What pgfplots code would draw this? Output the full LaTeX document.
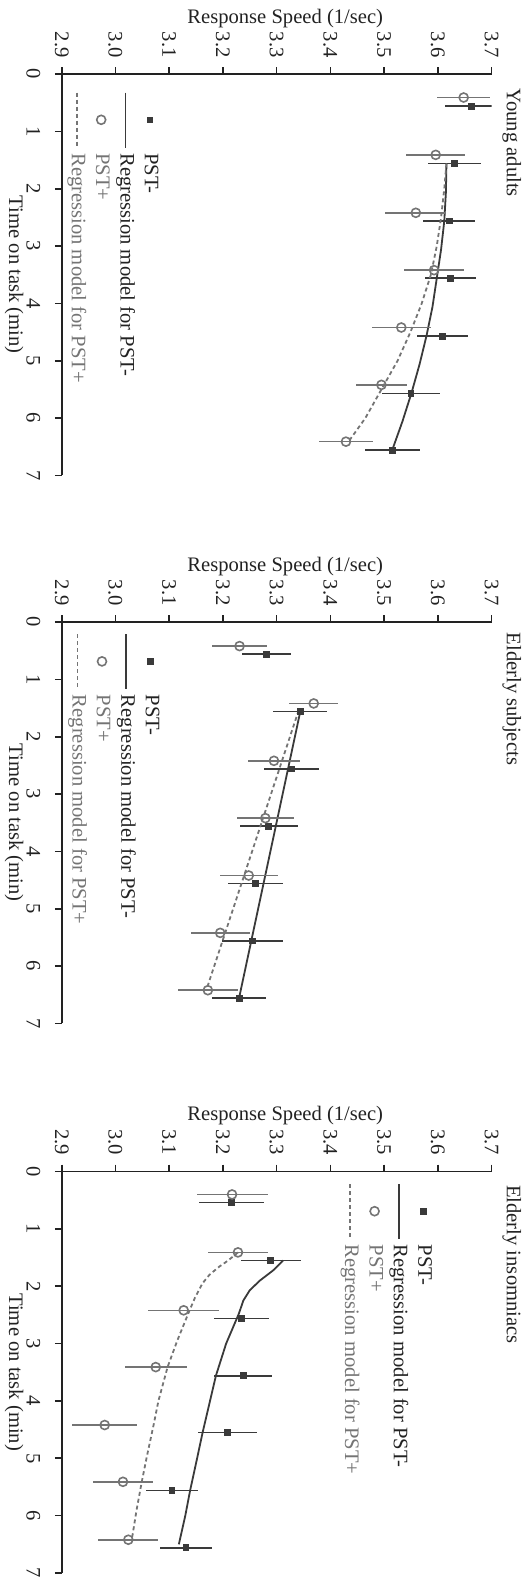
\documentclass[border=0pt]{standalone}
\usepackage{pgfplots}
\pgfplotsset{compat=1.18}
\usepackage{fontspec}
\setmainfont{Liberation Serif}
\definecolor{dk}{HTML}{3A3A3A}
\definecolor{gr}{HTML}{747474}
\definecolor{tx}{HTML}{222222}
\newcommand{\ff}{\fontsize{10.3}{12.4}\selectfont}
\pgfplotsset{
  sqleg/.style={legend image code/.code={\path (0pt,0pt) (27.5pt,0pt);
     \draw[mark repeat=2,mark phase=2,##1] plot coordinates {(0pt,0pt) (13.6pt,0pt) (27.2pt,0pt)};}},
  lnleg/.style={legend image code/.code={\draw[##1] (0pt,0pt) -- (27.5pt,0pt);}},
  sqplot/.style={only marks, mark=square*, mark size=1.45pt, color=dk, sqleg,
     error bars/.cd, y dir=both, y explicit, error mark=none,
     error bar style={line width=0.8pt, color=dk}},
  ciplot/.style={only marks, mark=o, mark size=2.25pt, color=gr, mark options={line width=0.8pt}, sqleg,
     error bars/.cd, y dir=both, y explicit, error mark=none,
     error bar style={line width=0.8pt, color=gr}},
  solidplot/.style={no marks, line width=0.9pt, color=dk, lnleg},
  dashplot/.style={no marks, line width=0.9pt, color=gr, dash pattern=on 2pt off 1.5pt, lnleg},
  panel/.style={
    scale only axis, width=200.75pt, height=214.95pt, anchor=south west,
    xmin=0, xmax=7, ymin=2.9, ymax=3.7,
    axis lines=left, axis line style={-, line width=0.8pt, color=tx},
    tick align=outside, major tick length=3.4pt,
    tick style={line width=0.8pt, color=tx},
    xtick={0,1,2,3,4,5,6,7}, ytick={2.9,3,3.1,3.2,3.3,3.4,3.5,3.6,3.7},
    xticklabel shift=3.8pt, yticklabel shift=1.2pt,
    /pgf/number format/assume math mode=true,
    yticklabel style={/pgf/number format/.cd, fixed, fixed zerofill, precision=1},
    tick label style={font=\ff, color=tx},
    label style={font=\ff, color=tx},
    xlabel={Time on task (min)},
    xlabel style={at={(axis description cs:0.5,-0.111)}, anchor=center},
    ylabel={Response Speed (1/sec)},
    ylabel style={at={(axis description cs:-0.1387,0.52)}, anchor=center},
    title style={font=\ff, color=tx, anchor=base west, inner sep=0pt, yshift=1.7pt},
    legend cell align=left,
    legend style={draw=none, fill=none, inner sep=0pt, outer sep=0pt,
       row sep=3.2pt, column sep=2.4pt, anchor=north west,
       nodes={inner sep=0pt, text height=7pt, text depth=2pt, font=\ff, color=tx}},
  }
}
\pgfplotstableread{
t s e
0.56 3.662 0.0486
1.56 3.631 0.0487
2.56 3.621 0.049
3.56 3.624 0.047
4.57 3.609 0.047
5.57 3.550 0.054
6.56 3.515 0.051
}\yaSq
\pgfplotstableread{
t s e
0.41 3.648 0.049
1.41 3.596 0.055
2.42 3.559 0.057
3.42 3.593 0.056
4.42 3.532 0.055
5.42 3.495 0.048
6.41 3.429 0.051
}\yaCi
\pgfplotstableread{
t s e
0.56 3.281 0.0455
1.56 3.344 0.050
2.56 3.328 0.051
3.56 3.285 0.054
4.56 3.260 0.051
5.56 3.255 0.056
6.56 3.230 0.051
}\esSq
\pgfplotstableread{
t s e
0.42 3.231 0.0505
1.42 3.369 0.046
2.42 3.295 0.049
3.42 3.279 0.053
4.42 3.248 0.054
5.42 3.195 0.055
6.42 3.172 0.056
}\esCi
\pgfplotstableread{
t s e
0.54 3.216 0.061
1.55 3.289 0.056
2.56 3.235 0.051
3.56 3.238 0.054
4.55 3.209 0.055
5.56 3.105 0.048
6.56 3.131 0.049
}\eiSq
\pgfplotstableread{
t s e
0.40 3.217 0.066
1.41 3.228 0.055
2.42 3.127 0.066
3.41 3.075 0.058
4.42 2.980 0.060
5.41 3.014 0.055
6.42 3.024 0.056
}\eiCi
\begin{document}
\begin{tikzpicture}
\begin{scope}[rotate=-90, transform shape]
\path[use as bounding box] (0pt,0pt) rectangle (789pt,264.5pt);
% ---------------- Young adults
\begin{axis}[panel, at={(37pt,30.85pt)},
  title={Young adults}, title style={at={(axis description cs:0.035,1)}},
  legend style={at={(axis description cs:0.0441,0.2263)}}]
\addplot[sqplot] table[x=t, y=s, y error=e] {\yaSq};
\addlegendentry{PST-}
\addplot[solidplot] coordinates {(1.56,3.616) (2.06,3.615) (2.56,3.612) (3.06,3.606) (3.56,3.598) (4.06,3.590) (4.56,3.579) (5.06,3.566) (5.56,3.551) (6.06,3.534) (6.56,3.515)};
\addlegendentry{Regression model for PST-}
\addplot[ciplot] table[x=t, y=s, y error=e] {\yaCi};
\addlegendentry{\textcolor{gr}{PST+}}
\addplot[dashplot] coordinates {(1.56,3.616) (2.0,3.612) (2.5,3.606) (3.0,3.598) (3.5,3.587) (4.0,3.570) (4.5,3.549) (5.0,3.525) (5.5,3.495) (6.0,3.465) (6.42,3.433)};
\addlegendentry{\textcolor{gr}{Regression model for PST+}}
\end{axis}
% ---------------- Elderly subjects
\begin{axis}[panel, at={(311pt,30.85pt)},
  title={Elderly subjects}, title style={at={(axis description cs:0.026,1)}},
  legend style={at={(axis description cs:0.0281,0.2282)}}]
\addplot[sqplot] table[x=t, y=s, y error=e] {\esSq};
\addlegendentry{PST-}
\addplot[solidplot] coordinates {(1.56,3.344) (6.56,3.230)};
\addlegendentry{Regression model for PST-}
\addplot[ciplot] table[x=t, y=s, y error=e] {\esCi};
\addlegendentry{\textcolor{gr}{PST+}}
\addplot[dashplot] coordinates {(1.54,3.341) (6.42,3.169)};
\addlegendentry{\textcolor{gr}{Regression model for PST+}}
\end{axis}
% ---------------- Elderly insomniacs
\begin{axis}[panel, at={(585.75pt,30.85pt)},
  title={Elderly insomniacs}, title style={at={(axis description cs:0.033,1)}},
  legend style={at={(axis description cs:0.0289,0.8623)}}]
\addplot[sqplot] table[x=t, y=s, y error=e] {\eiSq};
\addlegendentry{PST-}
\addplot[solidplot] coordinates {(1.55,3.312) (1.72,3.294) (1.90,3.269) (2.07,3.250) (2.25,3.238) (2.47,3.230) (2.56,3.226) (3.0,3.206) (3.56,3.187) (4.0,3.176) (4.56,3.162) (5.0,3.152) (5.56,3.139) (6.0,3.130) (6.5,3.118)};
\addlegendentry{Regression model for PST-}
\addplot[ciplot] table[x=t, y=s, y error=e] {\eiCi};
\addlegendentry{\textcolor{gr}{PST+}}
\addplot[dashplot] coordinates {(1.41,3.228) (1.55,3.210) (1.66,3.193) (1.8,3.175) (1.95,3.162) (2.2,3.148) (2.42,3.138) (2.95,3.115) (3.41,3.097) (4.0,3.080) (4.42,3.071) (4.99,3.058) (5.41,3.049) (5.92,3.039) (6.33,3.032) (6.42,3.030)};
\addlegendentry{\textcolor{gr}{Regression model for PST+}}
\end{axis}
\end{scope}
\end{tikzpicture}
\end{document}
